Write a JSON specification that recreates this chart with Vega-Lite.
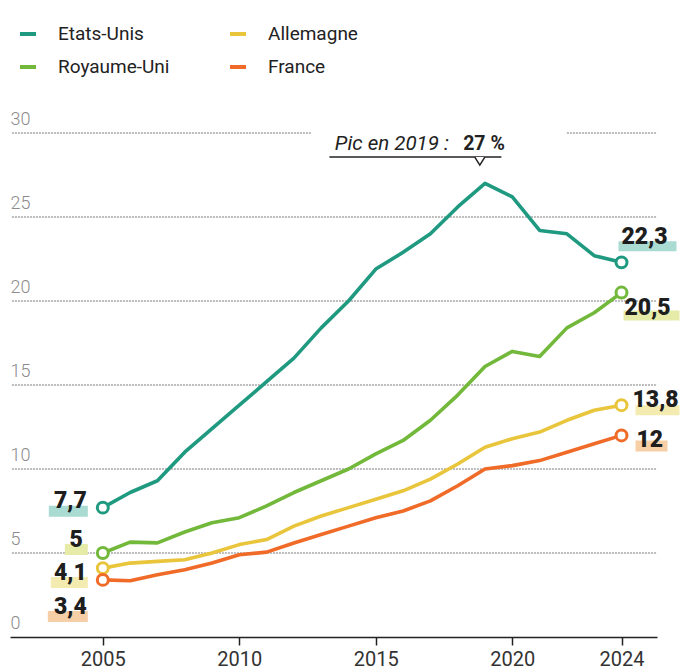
{
  "$schema": "https://vega.github.io/schema/vega-lite/v6.json",
  "width": 647,
  "height": 504,
  "autosize": {"type": "none"},
  "padding": {"left": 10, "top": 133, "right": 25, "bottom": 35},
  "background": "white",
  "config": {
    "view": {"stroke": null},
    "font": "Roboto",
    "locale": {"number": {"decimal": ",", "thousands": " ", "grouping": [3], "currency": ["", " €"]}}
  },
  "data": {
    "values": [
      {"country": "Etats-Unis", "year": 2005, "value": 7.7},
      {"country": "Etats-Unis", "year": 2006, "value": 8.6},
      {"country": "Etats-Unis", "year": 2007, "value": 9.3},
      {"country": "Etats-Unis", "year": 2008, "value": 11.0},
      {"country": "Etats-Unis", "year": 2009, "value": 12.4},
      {"country": "Etats-Unis", "year": 2010, "value": 13.8},
      {"country": "Etats-Unis", "year": 2011, "value": 15.2},
      {"country": "Etats-Unis", "year": 2012, "value": 16.6},
      {"country": "Etats-Unis", "year": 2013, "value": 18.4},
      {"country": "Etats-Unis", "year": 2014, "value": 20.0},
      {"country": "Etats-Unis", "year": 2015, "value": 21.9},
      {"country": "Etats-Unis", "year": 2016, "value": 22.9},
      {"country": "Etats-Unis", "year": 2017, "value": 24.0},
      {"country": "Etats-Unis", "year": 2018, "value": 25.6},
      {"country": "Etats-Unis", "year": 2019, "value": 27.0},
      {"country": "Etats-Unis", "year": 2020, "value": 26.2},
      {"country": "Etats-Unis", "year": 2021, "value": 24.2},
      {"country": "Etats-Unis", "year": 2022, "value": 24.0},
      {"country": "Etats-Unis", "year": 2023, "value": 22.7},
      {"country": "Etats-Unis", "year": 2024, "value": 22.3},
      {"country": "Royaume-Uni", "year": 2005, "value": 5.0},
      {"country": "Royaume-Uni", "year": 2006, "value": 5.65},
      {"country": "Royaume-Uni", "year": 2007, "value": 5.6},
      {"country": "Royaume-Uni", "year": 2008, "value": 6.25},
      {"country": "Royaume-Uni", "year": 2009, "value": 6.8},
      {"country": "Royaume-Uni", "year": 2010, "value": 7.1},
      {"country": "Royaume-Uni", "year": 2011, "value": 7.8},
      {"country": "Royaume-Uni", "year": 2012, "value": 8.6},
      {"country": "Royaume-Uni", "year": 2013, "value": 9.3},
      {"country": "Royaume-Uni", "year": 2014, "value": 10.0},
      {"country": "Royaume-Uni", "year": 2015, "value": 10.9},
      {"country": "Royaume-Uni", "year": 2016, "value": 11.7},
      {"country": "Royaume-Uni", "year": 2017, "value": 12.9},
      {"country": "Royaume-Uni", "year": 2018, "value": 14.4},
      {"country": "Royaume-Uni", "year": 2019, "value": 16.1},
      {"country": "Royaume-Uni", "year": 2020, "value": 17.0},
      {"country": "Royaume-Uni", "year": 2021, "value": 16.7},
      {"country": "Royaume-Uni", "year": 2022, "value": 18.4},
      {"country": "Royaume-Uni", "year": 2023, "value": 19.3},
      {"country": "Royaume-Uni", "year": 2024, "value": 20.5},
      {"country": "Allemagne", "year": 2005, "value": 4.1},
      {"country": "Allemagne", "year": 2006, "value": 4.4},
      {"country": "Allemagne", "year": 2007, "value": 4.5},
      {"country": "Allemagne", "year": 2008, "value": 4.6},
      {"country": "Allemagne", "year": 2009, "value": 5.0},
      {"country": "Allemagne", "year": 2010, "value": 5.5},
      {"country": "Allemagne", "year": 2011, "value": 5.8},
      {"country": "Allemagne", "year": 2012, "value": 6.6},
      {"country": "Allemagne", "year": 2013, "value": 7.2},
      {"country": "Allemagne", "year": 2014, "value": 7.7},
      {"country": "Allemagne", "year": 2015, "value": 8.2},
      {"country": "Allemagne", "year": 2016, "value": 8.7},
      {"country": "Allemagne", "year": 2017, "value": 9.4},
      {"country": "Allemagne", "year": 2018, "value": 10.3},
      {"country": "Allemagne", "year": 2019, "value": 11.3},
      {"country": "Allemagne", "year": 2020, "value": 11.8},
      {"country": "Allemagne", "year": 2021, "value": 12.2},
      {"country": "Allemagne", "year": 2022, "value": 12.9},
      {"country": "Allemagne", "year": 2023, "value": 13.5},
      {"country": "Allemagne", "year": 2024, "value": 13.8},
      {"country": "France", "year": 2005, "value": 3.4},
      {"country": "France", "year": 2006, "value": 3.35},
      {"country": "France", "year": 2007, "value": 3.7},
      {"country": "France", "year": 2008, "value": 4.0},
      {"country": "France", "year": 2009, "value": 4.4},
      {"country": "France", "year": 2010, "value": 4.9},
      {"country": "France", "year": 2011, "value": 5.05},
      {"country": "France", "year": 2012, "value": 5.6},
      {"country": "France", "year": 2013, "value": 6.1},
      {"country": "France", "year": 2014, "value": 6.6},
      {"country": "France", "year": 2015, "value": 7.1},
      {"country": "France", "year": 2016, "value": 7.5},
      {"country": "France", "year": 2017, "value": 8.1},
      {"country": "France", "year": 2018, "value": 9.0},
      {"country": "France", "year": 2019, "value": 10.0},
      {"country": "France", "year": 2020, "value": 10.2},
      {"country": "France", "year": 2021, "value": 10.5},
      {"country": "France", "year": 2022, "value": 11.0},
      {"country": "France", "year": 2023, "value": 11.5},
      {"country": "France", "year": 2024, "value": 12.0}
    ]
  },
  "layer": [
    {
      "data": {"values": [{"value": 5}, {"value": 10}, {"value": 15}, {"value": 20}, {"value": 25}]},
      "mark": {"type": "rule", "color": "#7a7a7a", "strokeWidth": 1.2, "strokeDash": [2, 1]},
      "encoding": {
        "y": {"field": "value", "type": "quantitative", "title": null},
        "x": {"datum": 2001.67},
        "x2": {"datum": 2025.3}
      }
    },
    {
      "data": {"values": [{}]},
      "mark": {"type": "rule", "color": "#7a7a7a", "strokeWidth": 1.2, "strokeDash": [2, 1]},
      "encoding": {"y": {"datum": 30}, "x": {"datum": 2001.67}, "x2": {"datum": 2012.66}}
    },
    {
      "data": {"values": [{}]},
      "mark": {"type": "rule", "color": "#7a7a7a", "strokeWidth": 1.2, "strokeDash": [2, 1]},
      "encoding": {"y": {"datum": 30}, "x": {"datum": 2022.0}, "x2": {"datum": 2025.3}}
    },
    {
      "mark": {"type": "line", "strokeWidth": 3.6, "strokeJoin": "round", "strokeCap": "round"},
      "encoding": {
        "x": {
          "field": "year", "type": "quantitative", "title": null,
          "scale": {"domain": [2001.6, 2025.3], "nice": false, "zero": false},
          "axis": {
            "values": [2005, 2010, 2015, 2020, 2024], "format": "d", "title": null,
            "grid": false, "domainColor": "#222", "domainWidth": 1.5,
            "tickColor": "#222", "tickWidth": 1.5, "tickSize": 8,
            "labelFontSize": 20, "labelColor": "#333", "labelPadding": 4, "labelFont": "Roboto"
          }
        },
        "y": {
          "field": "value", "type": "quantitative", "title": null,
          "scale": {"domain": [0, 30], "nice": false},
          "axis": {
            "values": [0, 5, 10, 15, 20, 25, 30], "title": null, "grid": false,
            "domain": false, "ticks": false, "tickSize": 0, "labelPadding": 0,
            "labelAlign": "left", "labelBaseline": "alphabetic", "labelOffset": -9,
            "labelFontSize": 18, "labelColor": "#8c8c8c", "labelFontWeight": 300, "labelFont": "Roboto"
          }
        },
        "color": {
          "field": "country", "type": "nominal",
          "scale": {
            "domain": ["Etats-Unis", "Royaume-Uni", "Allemagne", "France"],
            "range": ["#1f9a80", "#72b83a", "#e9c53c", "#f06a28"]
          },
          "legend": {
            "orient": "none", "legendX": 8, "legendY": -109, "columns": 2, "title": null,
            "symbolType": "stroke", "symbolStrokeWidth": 4, "symbolSize": 256,
            "labelFontSize": 19, "labelFont": "Roboto", "labelColor": "#222",
            "labelOffset": 20, "columnPadding": 52, "rowPadding": 13, "padding": 0
          }
        }
      }
    },
    {
      "transform": [{"filter": "datum.year === 2005 || datum.year === 2024"}],
      "mark": {"type": "point", "filled": true, "fill": "white", "strokeWidth": 3, "size": 120, "opacity": 1},
      "encoding": {
        "x": {"field": "year", "type": "quantitative"},
        "y": {"field": "value", "type": "quantitative"},
        "stroke": {"field": "country", "type": "nominal", "legend": null,
          "scale": {"domain": ["Etats-Unis", "Royaume-Uni", "Allemagne", "France"],
            "range": ["#1f9a80", "#72b83a", "#e9c53c", "#f06a28"]}}
      }
    },
    {
      "transform": [{"filter": "datum.country === 'Etats-Unis' && datum.year === 2005"}],
      "encoding": {"x": {"field": "year", "type": "quantitative"}, "y": {"field": "value", "type": "quantitative"}},
      "layer": [
        {"mark": {"type": "rect", "color": "#aadbd2", "xOffset": -54, "x2Offset": -15, "yOffset": -2, "y2Offset": 9},
         "encoding": {"x2": {"field": "year"}, "y2": {"field": "value"}}},
        {"mark": {"type": "text", "align": "right", "baseline": "alphabetic", "dx": -16, "dy": 0, "fontSize": 23, "fontWeight": 900, "color": "#1e1e1e"},
         "encoding": {"text": {"field": "value", "type": "quantitative", "format": "~g"}}}
      ]
    },
    {
      "transform": [{"filter": "datum.country === 'Royaume-Uni' && datum.year === 2005"}],
      "encoding": {"x": {"field": "year", "type": "quantitative"}, "y": {"field": "value", "type": "quantitative"}},
      "layer": [
        {"mark": {"type": "rect", "color": "#e6eba8", "xOffset": -38, "x2Offset": -15, "yOffset": -9, "y2Offset": 2},
         "encoding": {"x2": {"field": "year"}, "y2": {"field": "value"}}},
        {"mark": {"type": "text", "align": "right", "baseline": "alphabetic", "dx": -20, "dy": -6, "fontSize": 23, "fontWeight": 900, "color": "#1e1e1e"},
         "encoding": {"text": {"field": "value", "type": "quantitative", "format": "~g"}}}
      ]
    },
    {
      "transform": [{"filter": "datum.country === 'Allemagne' && datum.year === 2005"}],
      "encoding": {"x": {"field": "year", "type": "quantitative"}, "y": {"field": "value", "type": "quantitative"}},
      "layer": [
        {"mark": {"type": "rect", "color": "#f4ebb0", "xOffset": -52, "x2Offset": -15, "yOffset": 9, "y2Offset": 20},
         "encoding": {"x2": {"field": "year"}, "y2": {"field": "value"}}},
        {"mark": {"type": "text", "align": "right", "baseline": "alphabetic", "dx": -16, "dy": 12, "fontSize": 23, "fontWeight": 900, "color": "#1e1e1e"},
         "encoding": {"text": {"field": "value", "type": "quantitative", "format": "~g"}}}
      ]
    },
    {
      "transform": [{"filter": "datum.country === 'France' && datum.year === 2005"}],
      "encoding": {"x": {"field": "year", "type": "quantitative"}, "y": {"field": "value", "type": "quantitative"}},
      "layer": [
        {"mark": {"type": "rect", "color": "#f7cfa6", "xOffset": -55, "x2Offset": -15, "yOffset": 31, "y2Offset": 42},
         "encoding": {"x2": {"field": "year"}, "y2": {"field": "value"}}},
        {"mark": {"type": "text", "align": "right", "baseline": "alphabetic", "dx": -16, "dy": 34, "fontSize": 23, "fontWeight": 900, "color": "#1e1e1e"},
         "encoding": {"text": {"field": "value", "type": "quantitative", "format": "~g"}}}
      ]
    },
    {
      "transform": [{"filter": "datum.country === 'Etats-Unis' && datum.year === 2024"}],
      "encoding": {"x": {"field": "year", "type": "quantitative"}, "y": {"field": "value", "type": "quantitative"}},
      "layer": [
        {"mark": {"type": "rect", "color": "#aadbd2", "xOffset": -3, "x2Offset": 55, "yOffset": -21, "y2Offset": -11},
         "encoding": {"x2": {"field": "year"}, "y2": {"field": "value"}}},
        {"mark": {"type": "text", "align": "left", "baseline": "alphabetic", "dx": 0, "dy": -18, "fontSize": 23, "fontWeight": 900, "color": "#1e1e1e"},
         "encoding": {"text": {"field": "value", "type": "quantitative", "format": "~g"}}}
      ]
    },
    {
      "transform": [{"filter": "datum.country === 'Royaume-Uni' && datum.year === 2024"}],
      "encoding": {"x": {"field": "year", "type": "quantitative"}, "y": {"field": "value", "type": "quantitative"}},
      "layer": [
        {"mark": {"type": "rect", "color": "#e6eba8", "xOffset": 2, "x2Offset": 58, "yOffset": 18, "y2Offset": 28},
         "encoding": {"x2": {"field": "year"}, "y2": {"field": "value"}}},
        {"mark": {"type": "text", "align": "left", "baseline": "alphabetic", "dx": 3, "dy": 22, "fontSize": 23, "fontWeight": 900, "color": "#1e1e1e"},
         "encoding": {"text": {"field": "value", "type": "quantitative", "format": "~g"}}}
      ]
    },
    {
      "transform": [{"filter": "datum.country === 'Allemagne' && datum.year === 2024"}],
      "encoding": {"x": {"field": "year", "type": "quantitative"}, "y": {"field": "value", "type": "quantitative"}},
      "layer": [
        {"mark": {"type": "rect", "color": "#f4ebb0", "xOffset": 14, "x2Offset": 58, "yOffset": 0, "y2Offset": 10},
         "encoding": {"x2": {"field": "year"}, "y2": {"field": "value"}}},
        {"mark": {"type": "text", "align": "left", "baseline": "alphabetic", "dx": 11, "dy": 2, "fontSize": 23, "fontWeight": 900, "color": "#1e1e1e"},
         "encoding": {"text": {"field": "value", "type": "quantitative", "format": "~g"}}}
      ]
    },
    {
      "transform": [{"filter": "datum.country === 'France' && datum.year === 2024"}],
      "encoding": {"x": {"field": "year", "type": "quantitative"}, "y": {"field": "value", "type": "quantitative"}},
      "layer": [
        {"mark": {"type": "rect", "color": "#f7cfa6", "xOffset": 14, "x2Offset": 46, "yOffset": 5, "y2Offset": 16},
         "encoding": {"x2": {"field": "year"}, "y2": {"field": "value"}}},
        {"mark": {"type": "text", "align": "left", "baseline": "alphabetic", "dx": 15, "dy": 12, "fontSize": 23, "fontWeight": 900, "color": "#1e1e1e"},
         "encoding": {"text": {"field": "value", "type": "quantitative", "format": "~g"}}}
      ]
    },
    {
      "data": {"values": [{}]},
      "mark": {"type": "text", "text": "Pic en 2019 :", "align": "left", "baseline": "alphabetic", "fontStyle": "italic", "fontSize": 20.5, "color": "#222"},
      "encoding": {"x": {"datum": 2013.5}, "y": {"datum": 29.0}}
    },
    {
      "data": {"values": [{}]},
      "mark": {"type": "text", "text": "27 %", "align": "left", "baseline": "alphabetic", "fontWeight": "bold", "fontSize": 19.5, "color": "#222"},
      "encoding": {"x": {"datum": 2018.2}, "y": {"datum": 29.0}}
    },
    {
      "data": {"values": [{}]},
      "mark": {"type": "rule", "color": "#222", "strokeWidth": 1.5},
      "encoding": {"x": {"datum": 2013.3}, "x2": {"datum": 2019.6}, "y": {"datum": 28.57}}
    },
    {
      "data": {"values": [{}]},
      "mark": {"type": "point", "shape": "M-1,-0.8L0,0.8L1,-0.8", "size": 100, "filled": false, "fill": "white", "fillOpacity": 1, "stroke": "#222", "strokeWidth": 1.5, "opacity": 1},
      "encoding": {"x": {"datum": 2018.81}, "y": {"datum": 28.33}}
    }
  ]
}
